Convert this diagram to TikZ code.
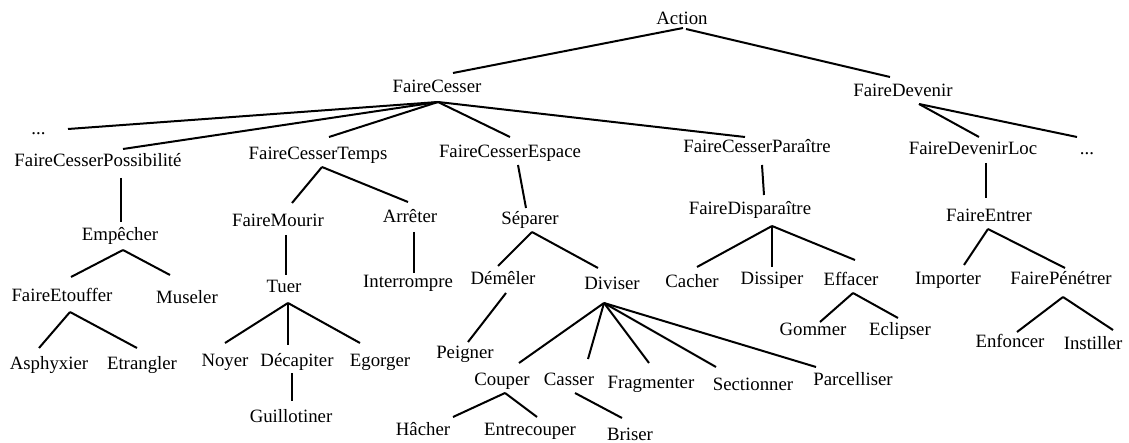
\documentclass[tikz,border=0pt]{standalone}
\usepackage{fontspec}
\setmainfont{Liberation Serif}
\begin{document}
\begin{tikzpicture}[x=1pt,y=-1pt,
  lbl/.style={anchor=base, inner sep=0pt, font=\fontsize{18.8}{22}\selectfont},
  conn/.style={line width=2pt}]
\fill[white] (0,0) rectangle (1129,443);
\useasboundingbox (0,0) rectangle (1129,443);

% level 0 and 1
\node[lbl] (act)  at (682,25)  {Action};
\node[lbl] (fc)   at (437,93)  {FaireCesser};
\node[lbl] (fd)   at (903,97)  {FaireDevenir};

% level 2
\node[lbl] (dl)   at (38.5,135) {...};
\node[lbl] (fcp)  at (98,167)  {FaireCesserPossibilité};
\node[lbl] (fct)  at (318,160) {FaireCesserTemps};
\node[lbl] (fce)  at (510,158) {FaireCesserEspace};
\node[lbl] (fcpa) at (757,153) {FaireCesserParaître};
\node[lbl] (fdl)  at (973,155) {FaireDevenirLoc};
\node[lbl] (dr)   at (1087,155) {...};

% level 3
\node[lbl] (emp)  at (120,241) {Empêcher};
\node[lbl] (fm)   at (278,227) {FaireMourir};
\node[lbl] (arr)  at (410,223) {Arrêter};
\node[lbl] (sep)  at (530,225) {Séparer};
\node[lbl] (fdis) at (750,215) {FaireDisparaître};
\node[lbl] (fe)   at (989,222) {FaireEntrer};

% level 4
\node[lbl] (fet)  at (62,302)  {FaireEtouffer};
\node[lbl] (mus)  at (187,304) {Museler};
\node[lbl] (tuer) at (284,293) {Tuer};
\node[lbl] (int)  at (408,288) {Interrompre};
\node[lbl] (dem)  at (503,285) {Démêler};
\node[lbl] (div)  at (612,290) {Diviser};
\node[lbl] (cach) at (692,288) {Cacher};
\node[lbl] (diss) at (772,285) {Dissiper};
\node[lbl] (eff)  at (851,286) {Effacer};
\node[lbl] (imp)  at (948,285) {Importer};
\node[lbl] (fpen) at (1061,285) {FairePénétrer};

% level 5
\node[lbl] (asp)  at (49,370)  {Asphyxier};
\node[lbl] (etr)  at (142,370) {Etrangler};
\node[lbl] (noy)  at (225,366) {Noyer};
\node[lbl] (dec)  at (297,366) {Décapiter};
\node[lbl] (ego)  at (380,366) {Egorger};
\node[lbl] (pei)  at (465,358) {Peigner};
\node[lbl] (cou)  at (502,385) {Couper};
\node[lbl] (cas)  at (569,385) {Casser};
\node[lbl] (fra)  at (651,388) {Fragmenter};
\node[lbl] (sec)  at (753,390) {Sectionner};
\node[lbl] (par)  at (853,385) {Parcelliser};
\node[lbl] (gom)  at (813,335) {Gommer};
\node[lbl] (ecl)  at (900,335) {Eclipser};
\node[lbl] (enf)  at (1010,347) {Enfoncer};
\node[lbl] (ins)  at (1093,349) {Instiller};

% level 6
\node[lbl] (gui)  at (291,422) {Guillotiner};
\node[lbl] (hac)  at (423,435) {Hâcher};
\node[lbl] (ent)  at (530,435) {Entrecouper};
\node[lbl] (bri)  at (630,440) {Briser};

% connectors
\begin{scope}[conn]
\draw ([shift={(1,3)}]act.base) -- ([shift={(16,-20)}]fc.base);
\draw ([shift={(4,4)}]act.base) -- ([shift={(-13,-20)}]fd.base);

\draw ([shift={(1,9)}]fc.base) -- ([shift={(29.5,-6)}]dl.base);
\draw ([shift={(1,9)}]fc.base) -- ([shift={(25,-18)}]fcp.base);
\draw ([shift={(1,9)}]fc.base) -- ([shift={(11,-23)}]fct.base);
\draw ([shift={(1,9)}]fc.base) -- ([shift={(0,-21)}]fce.base);
\draw ([shift={(1,9)}]fc.base) -- ([shift={(-12,-16)}]fcpa.base);

\draw ([shift={(16,7)}]fd.base) -- ([shift={(6,-18)}]fdl.base);
\draw ([shift={(16,7)}]fd.base) -- ([shift={(-10,-18)}]dr.base);

\draw ([shift={(23,11)}]fcp.base) -- ([shift={(1,-19)}]emp.base);
\draw ([shift={(3,9)}]emp.base) -- ([shift={(9,-25)}]fet.base);
\draw ([shift={(3,9)}]emp.base) -- ([shift={(-17,-29)}]mus.base);
\draw ([shift={(8,10)}]fet.base) -- ([shift={(-10,-22)}]asp.base);
\draw ([shift={(8,10)}]fet.base) -- ([shift={(-5,-22)}]etr.base);

\draw ([shift={(4,7)}]fct.base) -- ([shift={(14,-24)}]fm.base);
\draw ([shift={(4,7)}]fct.base) -- ([shift={(-2,-21)}]arr.base);
\draw ([shift={(8,8)}]fm.base) -- ([shift={(2,-18)}]tuer.base);
\draw ([shift={(4,9)}]arr.base) -- ([shift={(6,-15)}]int.base);
\draw ([shift={(4,10)}]tuer.base) -- ([shift={(0,-23)}]noy.base);
\draw ([shift={(4,10)}]tuer.base) -- ([shift={(-9,-21)}]dec.base);
\draw ([shift={(4,10)}]tuer.base) -- ([shift={(-20,-23)}]ego.base);
\draw ([shift={(-5,7)}]dec.base) -- ([shift={(1,-21)}]gui.base);

\draw ([shift={(8,7)}]fce.base) -- ([shift={(-4,-17)}]sep.base);
\draw ([shift={(2,7)}]sep.base) -- ([shift={(-5,-19)}]dem.base);
\draw ([shift={(2,7)}]sep.base) -- ([shift={(-14,-22)}]div.base);
\draw ([shift={(3,8)}]dem.base) -- ([shift={(3,-16)}]pei.base);
\draw ([shift={(-8,13)}]div.base) -- ([shift={(17,-22)}]cou.base);
\draw ([shift={(-8,13)}]div.base) -- ([shift={(19,-26)}]cas.base);
\draw ([shift={(-8,13)}]div.base) -- ([shift={(-2,-25)}]fra.base);
\draw ([shift={(-8,13)}]div.base) -- ([shift={(-37,-23)}]sec.base);
\draw ([shift={(-8,13)}]div.base) -- ([shift={(-37,-18)}]par.base);
\draw ([shift={(3,8)}]cou.base) -- ([shift={(30,-18)}]hac.base);
\draw ([shift={(3,8)}]cou.base) -- ([shift={(7,-18)}]ent.base);
\draw ([shift={(6,8)}]cas.base) -- ([shift={(-8,-22)}]bri.base);

\draw ([shift={(5,12)}]fcpa.base) -- ([shift={(14,-20)}]fdis.base);
\draw ([shift={(22,11)}]fdis.base) -- ([shift={(5,-21)}]cach.base);
\draw ([shift={(22,11)}]fdis.base) -- ([shift={(0,-18)}]diss.base);
\draw ([shift={(22,11)}]fdis.base) -- ([shift={(4,-26)}]eff.base);
\draw ([shift={(2,7)}]eff.base) -- ([shift={(7,-13)}]gom.base);
\draw ([shift={(2,7)}]eff.base) -- ([shift={(-2,-17)}]ecl.base);

\draw ([shift={(13,8)}]fdl.base) -- ([shift={(-3,-24)}]fe.base);
\draw ([shift={(-1,7)}]fe.base) -- ([shift={(16,-20)}]imp.base);
\draw ([shift={(-1,7)}]fe.base) -- ([shift={(4,-17)}]fpen.base);
\draw ([shift={(2,12)}]fpen.base) -- ([shift={(7,-15)}]enf.base);
\draw ([shift={(2,12)}]fpen.base) -- ([shift={(20,-19)}]ins.base);
\end{scope}
\end{tikzpicture}
\end{document}
